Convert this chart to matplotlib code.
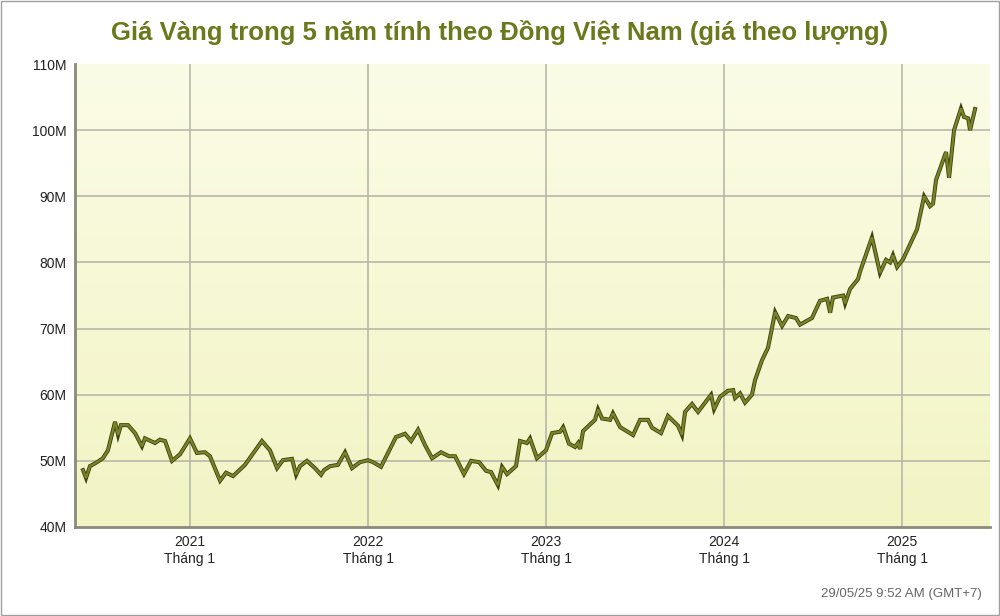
import matplotlib
matplotlib.use("Agg")
import matplotlib.pyplot as plt
import numpy as np
from matplotlib.patches import Rectangle
from matplotlib.colors import LinearSegmentedColormap

dates = [2020.399,2020.416,2020.438,2020.478,2020.511,2020.539,2020.579,2020.596,2020.612,2020.652,
2020.691,2020.730,2020.747,2020.803,2020.831,2020.860,2020.899,2020.944,2021.000,2021.039,
2021.084,2021.112,2021.169,2021.202,2021.242,2021.309,2021.404,2021.449,2021.489,2021.522,
2021.573,2021.596,2021.618,2021.657,2021.702,2021.736,2021.753,2021.787,2021.831,2021.871,
2021.910,2021.955,2022.000,2022.028,2022.073,2022.112,2022.157,2022.208,2022.242,2022.281,
2022.320,2022.360,2022.410,2022.455,2022.489,2022.539,2022.579,2022.624,2022.663,2022.691,
2022.730,2022.753,2022.781,2022.831,2022.854,2022.893,2022.910,2022.949,2023.000,2023.034,
2023.079,2023.096,2023.129,2023.163,2023.180,2023.191,2023.208,2023.275,2023.292,2023.315,
2023.360,2023.376,2023.416,2023.489,2023.528,2023.573,2023.596,2023.646,2023.685,2023.742,
2023.764,2023.781,2023.820,2023.854,2023.927,2023.944,2023.978,2024.022,2024.051,2024.062,
2024.090,2024.118,2024.157,2024.174,2024.213,2024.247,2024.287,2024.326,2024.360,2024.404,
2024.427,2024.494,2024.539,2024.579,2024.596,2024.612,2024.669,2024.680,2024.708,2024.753,
2024.764,2024.831,2024.876,2024.910,2024.933,2024.949,2024.972,2025.006,2025.084,2025.124,
2025.157,2025.174,2025.191,2025.247,2025.264,2025.292,2025.331,2025.348,2025.371,2025.382,
2025.410]
prices = [48.6,47.4,49.2,49.8,50.4,51.6,55.9,53.9,55.4,55.4,
54.2,52.2,53.4,52.7,53.2,53.0,50.0,51.0,53.4,51.2,
51.3,50.7,47.0,48.2,47.7,49.4,53.0,51.6,48.9,50.1,
50.3,47.9,49.2,50.0,48.9,47.9,48.6,49.2,49.4,51.3,
48.9,49.8,50.1,49.8,49.1,51.2,53.6,54.1,53.0,54.7,
52.4,50.4,51.3,50.7,50.7,48.0,50.0,49.8,48.5,48.3,
46.3,49.1,48.0,49.2,53.0,52.7,53.4,50.4,51.6,54.2,
54.4,55.1,52.6,52.1,52.7,51.8,54.5,56.2,57.8,56.4,
56.2,57.2,55.1,53.9,56.2,56.2,55.0,54.2,56.8,55.3,
53.9,57.4,58.6,57.4,60.0,57.8,59.7,60.6,60.7,59.5,
60.2,58.8,60.0,62.2,65.2,67.1,72.5,70.4,71.9,71.6,
70.6,71.6,74.2,74.5,72.4,74.7,75.0,73.8,76.0,77.5,
78.6,83.8,78.4,80.4,80.0,81.1,79.3,80.5,85.0,90.0,
88.5,88.9,92.5,96.7,92.8,100.0,103.3,102.0,101.8,100.0,
103.2]
year_ticks = [2021, 2022, 2023, 2024, 2025]
tick_labels = ["2021\nTháng 1", "2022\nTháng 1", "2023\nTháng 1", "2024\nTháng 1", "2025\nTháng 1"]
y_ticks = [40, 50, 60, 70, 80, 90, 100, 110]

fig = plt.figure(figsize=(10, 6.16), dpi=100)
fig.patch.set_facecolor("white")
fig.add_artist(Rectangle((0.001, 0.001), 0.998, 0.998, transform=fig.transFigure,
                         fill=False, edgecolor="#a0a0a0", lw=1))
ax = fig.add_axes([0.075, 0.1445, 0.915, 0.7515])
x0, x1 = 2020.354, 2025.494
grad = np.linspace(0, 1, 256).reshape(-1, 1)
cmap = LinearSegmentedColormap.from_list("bg", ["#f2f4c4", "#fbfce6"])
ax.imshow(grad, aspect="auto", cmap=cmap, origin="lower", extent=[x0, x1, 40, 110], zorder=0)
ax.set_xlim(x0, x1)
ax.set_ylim(40, 110)
for t in year_ticks:
    ax.axvline(t, color="#b8b8a8", lw=1.2, zorder=1)
for v in y_ticks[1:-1]:
    ax.axhline(v, color="#b8b8a8", lw=1.2, zorder=1)
ax.plot(dates, prices, color="#3e4410", lw=2.9, zorder=2, solid_joinstyle="miter")
ax.plot(dates, prices, color="#7a8428", lw=1.6, zorder=3, solid_joinstyle="miter")
ax.set_xticks(year_ticks)
ax.set_xticklabels(tick_labels, fontsize=10, color="#222222", family="Liberation Sans")
ax.set_yticks(y_ticks)
ax.set_yticklabels([f"{v}M" for v in y_ticks], fontsize=10, color="#222222", family="Liberation Sans")
ax.tick_params(length=0, pad=6)
for s in ["top", "right"]:
    ax.spines[s].set_visible(False)
for s in ["left", "bottom"]:
    ax.spines[s].set_color("#8a8a7a")
    ax.spines[s].set_linewidth(2)
fig.text(0.5, 0.948, "Giá Vàng trong 5 năm tính theo Đồng Việt Nam (giá theo lượng)",
         ha="center", va="center", fontsize=18.5, fontweight="bold", color="#6b781c",
         family="Liberation Sans")
fig.text(0.982, 0.035, "29/05/25 9:52 AM (GMT+7)", ha="right", va="center",
         fontsize=9.5, color="#666666", family="Liberation Sans")
fig.savefig("out.png", dpi=100)
